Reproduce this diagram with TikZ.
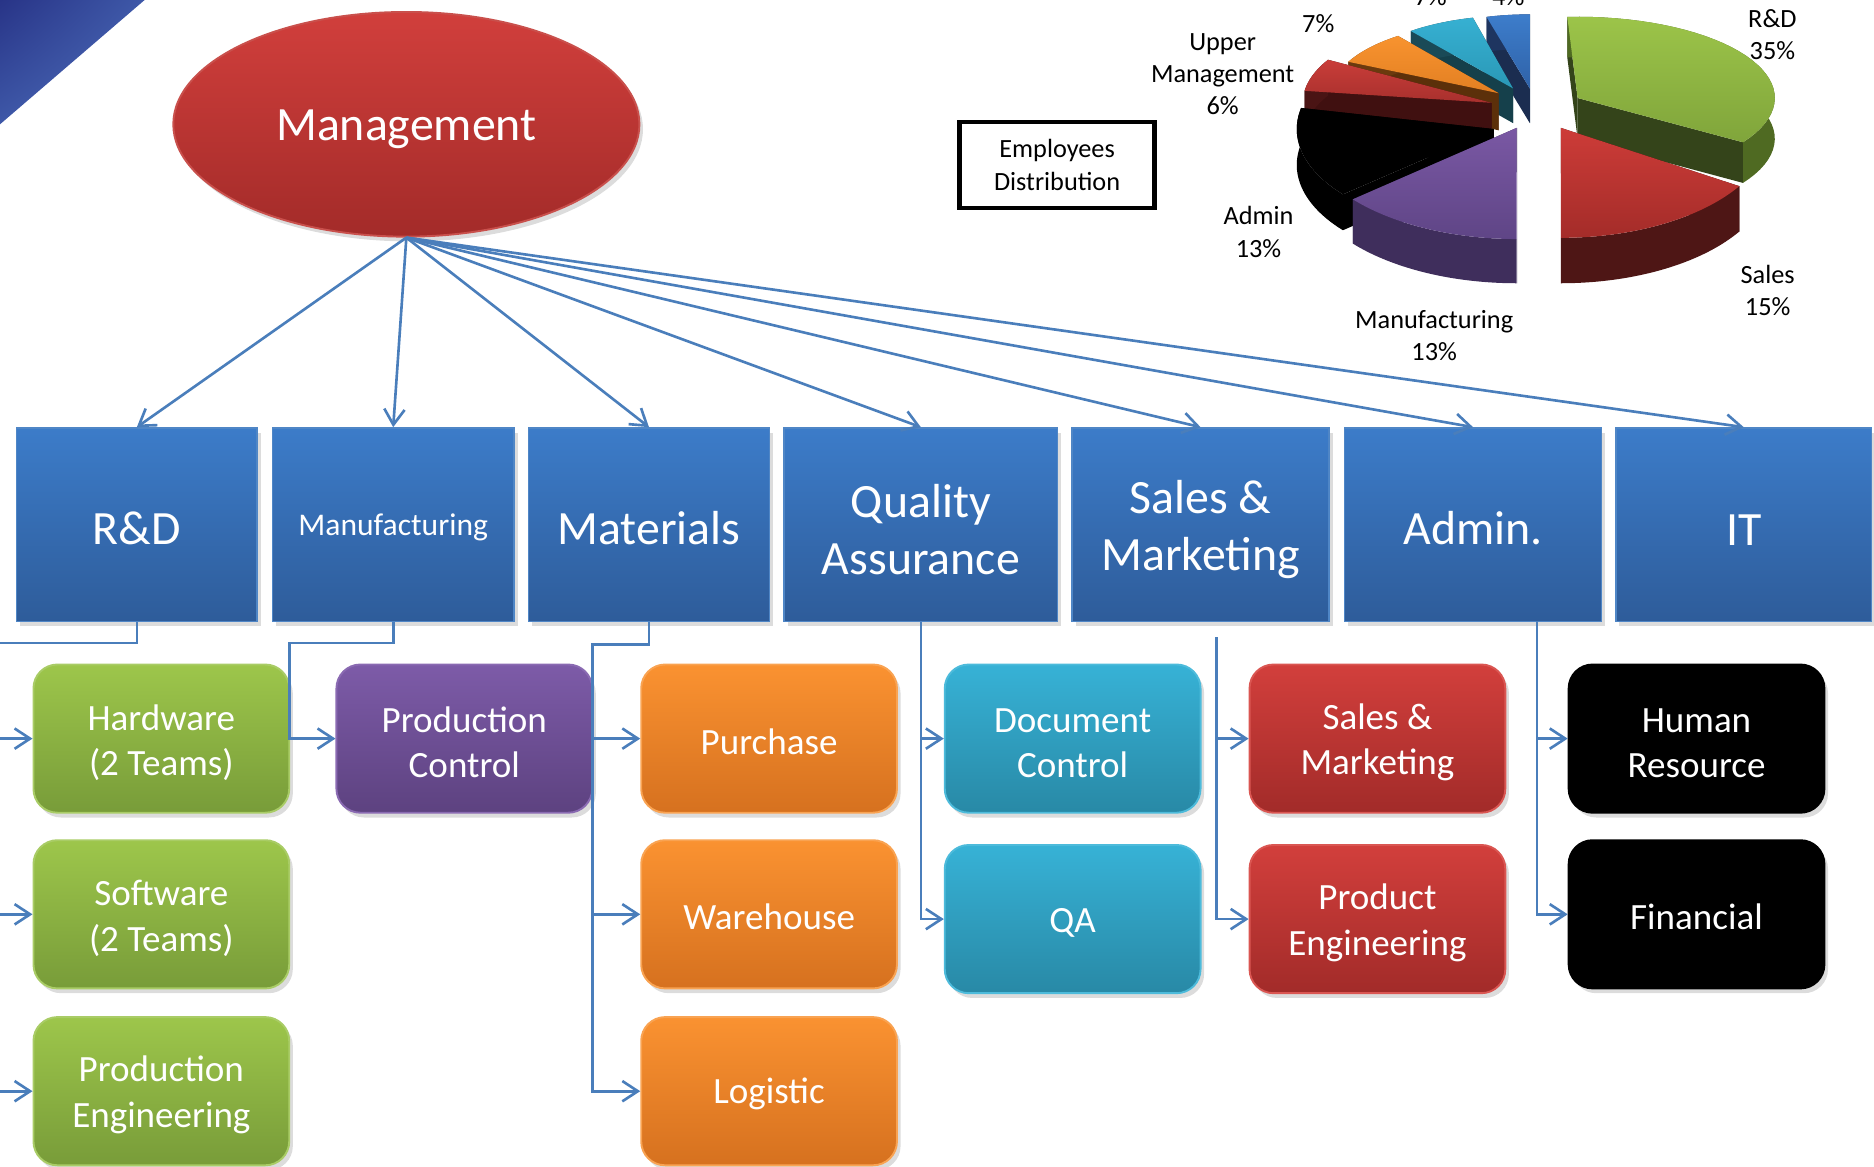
\documentclass[tikz,border=0pt]{standalone}
\usepackage{fontspec}
\setmainfont{Carlito}
\usetikzlibrary{arrows.meta,shadows,shapes.geometric,shadings}
\definecolor{connc}{HTML}{4A7EBB}
\definecolor{blueT}{HTML}{3C7CC9}
\definecolor{blueB}{HTML}{2E5C9A}
\definecolor{blueE}{HTML}{4F86C6}
\definecolor{mgT}{HTML}{D13F3C}
\definecolor{mgB}{HTML}{A32B29}
\definecolor{mgE}{HTML}{C9504C}
\definecolor{grT}{HTML}{9DC64B}
\definecolor{grB}{HTML}{789C39}
\definecolor{grE}{HTML}{A9CC66}
\definecolor{puT}{HTML}{7D5BA8}
\definecolor{puB}{HTML}{5D4280}
\definecolor{puE}{HTML}{8A6AB2}
\definecolor{orT}{HTML}{FA9231}
\definecolor{orB}{HTML}{D6711F}
\definecolor{orE}{HTML}{F9A352}
\definecolor{teT}{HTML}{37B2D6}
\definecolor{teB}{HTML}{2889A6}
\definecolor{teE}{HTML}{4DBBDB}
\definecolor{reT}{HTML}{D23F3C}
\definecolor{reB}{HTML}{A22B29}
\definecolor{reE}{HTML}{DA5652}
\definecolor{triA}{HTML}{283487}
\definecolor{triB}{HTML}{3E58A8}
\definecolor{triC}{HTML}{5070BC}
% pie colours: T top, B bottom, W outer wall, C cut face
\definecolor{sBT}{HTML}{3D7DCB}\definecolor{sBB}{HTML}{2F62A8}\definecolor{sBW}{HTML}{1E3560}\definecolor{sBC}{HTML}{1B2D50}
\definecolor{sTT}{HTML}{36B0D2}\definecolor{sTB}{HTML}{2A98B6}\definecolor{sTW}{HTML}{1A4A57}\definecolor{sTC}{HTML}{15404B}
\definecolor{sOT}{HTML}{F8932F}\definecolor{sOB}{HTML}{E27F22}\definecolor{sOW}{HTML}{6B3A0E}\definecolor{sOC}{HTML}{5C300A}
\definecolor{sUT}{HTML}{C93D39}\definecolor{sUB}{HTML}{A8302D}\definecolor{sUW}{HTML}{4A1414}\definecolor{sUC}{HTML}{401010}
\definecolor{sGT}{HTML}{9CC449}\definecolor{sGB}{HTML}{80A53B}\definecolor{sGW}{HTML}{4F6A22}\definecolor{sGC}{HTML}{34441A}
\definecolor{sKT}{HTML}{000000}\definecolor{sKB}{HTML}{000000}\definecolor{sKW}{HTML}{000000}\definecolor{sKC}{HTML}{000000}
\definecolor{sPT}{HTML}{7A58A4}\definecolor{sPB}{HTML}{5F4586}\definecolor{sPW}{HTML}{3F2E5C}\definecolor{sPC}{HTML}{362650}
\definecolor{sRT}{HTML}{CD3C38}\definecolor{sRB}{HTML}{A42C29}\definecolor{sRW}{HTML}{4E1615}\definecolor{sRC}{HTML}{441311}
\newcommand\pieslice[8]{%
  \fill[#8C] (#1,#2) -- ({#1+#3*cos(#5)},{#2-#4*sin(#5)}) -- ({#1+#3*cos(#5)},{#2+#7-#4*sin(#5)}) -- (#1,{#2+#7}) -- cycle;
  \fill[#8C] (#1,#2) -- ({#1+#3*cos(#6)},{#2-#4*sin(#6)}) -- ({#1+#3*cos(#6)},{#2+#7-#4*sin(#6)}) -- (#1,{#2+#7}) -- cycle;
  \fill[#8W] plot[domain=#5:#6,samples=36] ({#1+#3*cos(\x)},{#2-#4*sin(\x)}) -- plot[domain=#6:#5,samples=36] ({#1+#3*cos(\x)},{#2+#7-#4*sin(\x)}) -- cycle;
  \shade[top color=#8T, bottom color=#8B] (#1,#2) -- plot[domain=#5:#6,samples=36] ({#1+#3*cos(\x)},{#2-#4*sin(\x)}) -- cycle;
}
\newcommand\upstrut{\rule{0pt}{0.9em}}
\begin{document}
\begin{tikzpicture}[x=0.5pt,y=-0.5pt,
  conn/.style={draw=connc, line width=1.1pt},
  arr/.style={conn, -{Straight Barb[length=6.5pt,width=8.5pt]}},
  shadowed/.style={drop shadow={opacity=0.28,shadow xshift=1.5pt,shadow yshift=-2pt}},
  lowtext/.style={execute at begin node={\rule{0pt}{0.85em}}},
  topbox/.style={rectangle, shadowed, lowtext, top color=blueT, bottom color=blueB, draw=blueE, line width=0.6pt,
     text=white, align=center, minimum height=81pt, inner sep=0pt, font=\fontsize{20}{24}\selectfont},
  subbox/.style={rectangle, rounded corners=10pt, shadowed, lowtext, minimum width=107pt, minimum height=62pt,
     text=white, align=center, inner sep=0pt, line width=0.8pt, font=\fontsize{15.5}{19}\selectfont},
  gbox/.style={subbox, top color=grT, bottom color=grB, draw=grE},
  pbox/.style={subbox, top color=puT, bottom color=puB, draw=puE},
  obox/.style={subbox, top color=orT, bottom color=orB, draw=orE},
  tbox/.style={subbox, top color=teT, bottom color=teB, draw=teE},
  rbox/.style={subbox, top color=reT, bottom color=reB, draw=reE},
  kbox/.style={subbox, fill=black, draw=black},
  plabel/.style={align=center, inner sep=0pt, text=black, font=\fontsize{11}{13.5}\selectfont}]
\useasboundingbox (0,0) rectangle (1568,976);

% corner triangle
\shade[upper left=triA, upper right=triB, lower left=triB, lower right=triC]
  (0,0) -- (121,0) -- (0,104) -- cycle;

% management
\node[ellipse, shadowed, lowtext, top color=mgT, bottom color=mgB, draw=mgE, line width=0.8pt,
      minimum width=195pt, minimum height=94pt, inner sep=0pt, text=white,
      font=\fontsize{20}{24}\selectfont] (mgmt) at (340,104) {Management};

% top row
\node[topbox, minimum width=100.5pt] (trd) at (114.5,439) {R\&D};
\node[topbox, minimum width=101pt, font=\fontsize{13.2}{16}\selectfont] (tmf) at (329,439) {Manufacturing};
\node[topbox, minimum width=101pt] (tmt) at (543,439) {Materials};
\node[topbox, minimum width=114.5pt] (tqa) at (770.5,439) {\upstrut Quality\\Assurance};
\node[topbox, minimum width=107.5pt] (tsm) at (1004.5,439) {\upstrut Sales \&\\Marketing};
\node[topbox, minimum width=107.5pt] (tad) at (1232.5,439) {Admin.};
\node[topbox, minimum width=107pt] (tit) at (1459,439) {IT};

% management arrows
\foreach \t in {trd,tmf,tmt,tqa,tsm,tad,tit}
  \draw[arr] (mgmt.south) -- (\t.north);

% sub boxes
\node[gbox] (hw) at (135,618) {\upstrut Hardware\\(2 Teams)};
\node[gbox] (sw) at (135,765) {\upstrut Software\\(2 Teams)};
\node[gbox] (pe) at (135,913) {\upstrut Production\\Engineering};
\node[pbox] (pc) at (388.5,618) {\upstrut Production\\Control};
\node[obox] (pu) at (643.5,618) {Purchase};
\node[obox] (wh) at (643.5,765) {Warehouse};
\node[obox] (lo) at (643.5,913) {Logistic};
\node[tbox] (dc) at (897.5,618) {\upstrut Document\\Control};
\node[tbox] (qab) at (897.5,769) {QA};
\node[rbox] (smk) at (1152.5,618) {\upstrut Sales \&\\Marketing};
\node[rbox] (pen) at (1152.5,769) {\upstrut Product\\Engineering};
\node[kbox] (hr) at (1419.5,618) {\upstrut Human\\Resource};
\node[kbox] (fin) at (1419.5,765) {Financial};

% elbow connectors
\coordinate (rdj) at (-3,538);
\draw[conn] (trd.south) -- (trd.south |- rdj) -- (rdj) -- (rdj |- pe.west);
\draw[arr] (rdj |- hw.west) -- (hw.west);
\draw[arr] (rdj |- sw.west) -- (sw.west);
\draw[arr] (rdj |- pe.west) -- (pe.west);

\coordinate (mfj) at (242,538);
\draw[arr] (tmf.south) -- (tmf.south |- mfj) -- (mfj) -- (mfj |- pc.west) -- (pc.west);

\coordinate (mtj) at (496,539);
\draw[arr] (tmt.south) -- (tmt.south |- mtj) -- (mtj) -- (mtj |- lo.west) -- (lo.west);
\draw[arr] (mtj |- pu.west) -- (pu.west);
\draw[arr] (mtj |- wh.west) -- (wh.west);

\draw[arr] (tqa.south) -- (tqa.south |- qab.west) -- (qab.west);
\draw[arr] (tqa.south |- dc.west) -- (dc.west);

\coordinate (smj) at (1018,533);
\draw[arr] (smj) -- (smj |- pen.west) -- (pen.west);
\draw[arr] (smj |- smk.west) -- (smk.west);

\coordinate (adj) at (1286,520);
\draw[arr] (adj) -- (adj |- fin.west) -- (fin.west);
\draw[arr] (adj |- hr.west) -- (hr.west);

% employees box
\node[draw, line width=2pt, minimum width=81.5pt, minimum height=36pt, align=center, inner sep=0pt,
      font=\fontsize{11}{13.5}\selectfont] (emp) at (884.5,138) {Employees\\Distribution};

% pie chart (back to front)
\pieslice{1280}{74}{140}{62}{90}{105}{29}{sB}
\pieslice{1266}{74}{139}{61}{104}{128}{29}{sT}
\pieslice{1254}{78}{140}{60}{127}{154}{31}{sO}
\pieslice{1248}{86}{158}{72}{150}{172}{30}{sU}
\pieslice{1320}{82}{165}{68}{-33}{93}{34}{sG}
\pieslice{1250}{108}{165}{85}{-192}{-140}{30}{sK}
\pieslice{1269}{107}{179}{93}{-140}{-90}{37}{sP}
\pieslice{1306}{107}{176}{92}{-90}{-32}{38}{sR}

% pie labels
\node[plabel] (lrd) at (1483,29) {R\&D\\35\%};
\node[plabel] (lsa) at (1479,243) {Sales\\15\%};
\node[plabel] (lmf) at (1200,281) {Manufacturing\\13\%};
\node[plabel] (lad) at (1053,194) {Admin\\13\%};
\node[plabel] (lum) at (1023,62) {Upper\\Management\\6\%};
\node[plabel] (lor) at (1103,20) {7\%};
\node[plabel] (lte) at (1197,-3) {7\%};
\node[plabel] (lbl) at (1262,-3) {4\%};
\end{tikzpicture}
\end{document}
